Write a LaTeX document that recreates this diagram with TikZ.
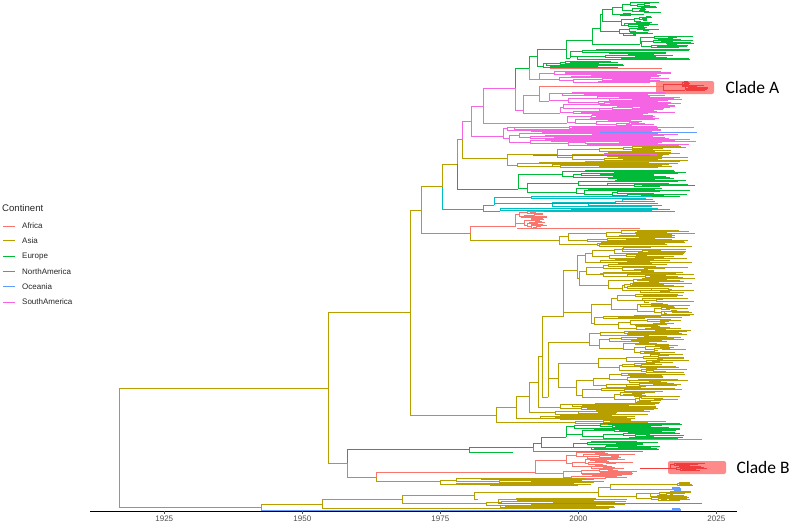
\documentclass[tikz,border=0pt]{standalone}
\usepackage{fontspec}
\setmainfont{Liberation Sans}
\newfontfamily\cladefont{Carlito}
\definecolor{af}{HTML}{F8766D}
\definecolor{as}{HTML}{B79F00}
\definecolor{eu}{HTML}{00BA38}
\definecolor{na}{HTML}{00BFC4}
\definecolor{oc}{HTML}{619CFF}
\definecolor{sa}{HTML}{F564E3}
\definecolor{hl}{RGB}{255,138,138}
\definecolor{hlred}{RGB}{240,60,60}
\definecolor{axgray}{RGB}{77,77,77}
\newcommand\rtmin{2}
\newcommand\rtvar{30}
\newcommand\rtstep{0.3}
% random subtree: #1 x, #2 ytop, #3 ybot, #4 xmax
\newcommand\rt[4]{%
  \pgfmathsetmacro\rtH{#3-#2}%
  \ifdim\rtH pt<\rtmin pt\relax
    \pgfmathsetmacro\rtM{(#2+#3)/2}%
    \pgfmathsetmacro\rtE{max(#1+1.5,#4-rnd*\rtvar)}%
    \draw (#1,\rtM) -- (\rtE,\rtM);%
    \let\rtNext\relax
  \else
    \pgfmathsetmacro\rtS{#2+(0.2+0.6*rnd)*\rtH}%
    \pgfmathsetmacro\rtA{(#2+\rtS)/2}%
    \pgfmathsetmacro\rtB{(\rtS+#3)/2}%
    \pgfmathsetmacro\rtXa{#1+(0.02+\rtstep*rnd)*(#4-#1)}%
    \pgfmathsetmacro\rtXb{#1+(0.02+\rtstep*rnd)*(#4-#1)}%
    \draw (\rtXa,\rtA) -- (#1,\rtA) -- (#1,\rtB) -- (\rtXb,\rtB);%
    \edef\rtNext{\noexpand\rt{\rtXa}{#2}{\rtS}{#4}\noexpand\rt{\rtXb}{\rtS}{#3}{#4}}%
  \fi
  \rtNext}
% subtree attached at (x,ya): [tipvar] color x ya ytop ybot xmax minh
\newcommand\sub[8][30]{%
  \begin{scope}[#2]
    \def\rtvar{#1}\def\rtmin{#8}%
    \draw (#3,#4) -- (#3,{(#5+#6)/2});
    \rt{#3}{#5}{#6}{#7}
  \end{scope}}
% internal node: x ya c1 y1 x1 c2 y2 x2
\newcommand\nd[8]{%
  \draw[#3] (#5,#4) -- (#1,#4) -- (#1,#2);
  \draw[#6] (#1,#2) -- (#1,#7) -- (#8,#7);}
\begin{document}
\begin{tikzpicture}[x=1pt,y=-1pt,line width=1pt]
\useasboundingbox (0,0) rectangle (789,523);
\pgfmathsetseed{20}
% highlight boxes
\fill[hl,rounded corners=2pt] (656,81) rectangle (714,94);
\fill[hl,rounded corners=2pt] (668,461) rectangle (726,474);
% backbone
\nd{119.3}{447}{as}{388}{328.3}{as}{507}{261}
\nd{328.3}{388}{as}{312.3}{410}{as}{463.3}{347}
\nd{410}{312.3}{as}{210}{421}{as}{415}{496}
\nd{421}{210}{as}{186.7}{442}{as}{233.3}{470.7}
\nd{442}{186.7}{as}{164}{457}{na}{209.3}{483.3}
\nd{457}{164}{as}{139.3}{462}{eu}{189.3}{518}
\nd{462}{139.3}{sa}{121.7}{471}{as}{158.3}{507}
\nd{471}{121.7}{sa}{106.7}{483.3}{sa}{136.7}{503}
\nd{483.3}{106.7}{sa}{88.3}{515}{sa}{123.3}{567}
\nd{515}{88.3}{eu}{68.3}{529}{sa}{110}{523}
\nd{529}{68.3}{eu}{56.7}{537}{sa}{79.3}{539}
\nd{537}{56.7}{eu}{49.3}{566}{eu}{66}{543}
\nd{566}{49.3}{eu}{40.7}{592}{eu}{58.3}{570}
% Europe / South America top
\nd{592}{40.7}{eu}{28}{600}{eu}{44}{640}
\sub[40]{eu}{600}{28}{2}{36}{662}{1.5}
\sub[25]{eu}{640}{44}{36}{48}{696}{1.3}
\sub[40]{eu}{570}{58.3}{49}{60}{692}{1.4}
\sub[40]{eu}{543}{66}{61}{68}{635}{1.4}
\draw[af] (550,68.3) -- (662,68.3);
\sub[35]{sa}{539}{79.3}{71}{83}{680}{1.4}
\nd{523}{110}{sa}{95}{539}{sa}{113}{560}
\nd{539}{95}{af}{86.7}{600}{sa}{101}{549}
\sub[35]{sa}{549}{101}{92}{105}{683}{1.4}
\sub[30]{sa}{560}{113}{104}{114}{678}{1.3}
\sub[35]{sa}{567}{123.3}{114}{126}{660}{1.3}
\sub[45]{sa}{503}{136.7}{126}{146}{697}{1.5}
\draw[oc] (600,132.7) -- (697,132.7);
% Clade A
\draw[af] (600,86.7) -- (663,86.7);
\nd{663}{86.7}{hlred}{84}{682}{hlred}{90}{685}
\sub[8]{hlred}{682}{84}{81}{86.5}{690}{0.8}
\sub[12]{hlred}{685}{90}{85}{91}{708}{0.8}
% Asia under F
\sub[45]{as}{507}{158.3}{146}{168}{690}{1.5}
\draw[na] (533,155) -- (650,155);
\draw[sa] (603,154) -- (657,154);
\draw[sa] (585,161) -- (670,161);
% Europe under E
\sub[45]{eu}{518}{189.3}{170}{197}{695}{1.6}
% North America
\nd{483.3}{209.3}{na}{205}{494}{na}{211}{500}
\sub[40]{na}{494}{205}{195}{208}{677}{2.4}
\sub[30]{na}{500}{211}{208.5}{212}{677}{1.2}
\draw[eu] (530,203) -- (620,203);
% Africa 1
\nd{470.7}{233.3}{af}{226}{515.7}{as}{240.3}{559.3}
\sub[15]{af}{515.7}{226}{211}{229}{548}{1.2}
\draw[af] (517,228.3) -- (640,228.3);
\sub[40]{as}{559.3}{240.3}{230}{247}{695}{1.5}
% big Asia clade
\nd{496}{415}{as}{407.7}{516.3}{as}{422.3}{575}
\nd{516.3}{407.7}{as}{396.7}{529}{as}{418.7}{540}
\nd{529}{396.7}{as}{382.7}{538.3}{as}{412}{555}
\nd{538.3}{382.7}{as}{356.7}{542.7}{as}{407.3}{560}
\nd{542.7}{356.7}{as}{316.7}{563.3}{as}{397.3}{548}
\sub[50]{as}{563.3}{316.7}{247}{331}{695}{1.6}
\sub[50]{as}{548}{397.3}{331}{403}{690}{1.6}
\sub[40]{as}{560}{407.3}{403}{410}{660}{1.3}
\sub[40]{as}{555}{412}{410}{415}{650}{1.3}
\sub[40]{as}{540}{418.7}{415}{420}{640}{1.3}
\sub[40]{as}{575}{422.3}{420}{425}{670}{1.3}
\draw[af] (600,273.3) -- (668,273.3);
% P clade
\nd{347}{463.3}{eu}{449.3}{469}{as}{477}{376.7}
\nd{469}{449.3}{eu}{447.3}{533.3}{eu}{452.3}{512.7}
\nd{533.3}{447.3}{eu}{443}{541.7}{na}{451}{643}
\nd{541.7}{443}{eu}{437}{566}{eu}{447.7}{573}
\sub[40]{eu}{566}{437}{423}{440}{685}{1.4}
\draw[as] (580,439) -- (702,439);
\sub[30]{eu}{573}{447.7}{441}{450}{662}{1.3}
\nd{376.7}{477}{af}{472.7}{535}{as}{481}{440}
\sub[40]{af}{535}{472.7}{452}{479}{640}{1.5}
\sub[40]{as}{440}{481}{478}{485.5}{605}{1.2}
% Clade B
\draw[hlred] (640,468) -- (670,468);
\sub[20]{hlred}{670}{468}{463}{471}{707}{0.9}
% bottom clades
\nd{261}{507}{as}{504}{322.3}{oc}{510}{672}
\sub[6]{oc}{672}{510}{508}{511}{684}{0.8}
\nd{322.3}{504}{as}{499.7}{402.7}{as}{508.3}{575}
\sub[20]{as}{575}{508.3}{506}{509}{625}{1}
\nd{402.7}{499.7}{as}{495.7}{474.3}{as}{503.7}{486.7}
\nd{474.3}{495.7}{as}{492.3}{598.3}{as}{499}{478}
\nd{598.3}{492.3}{as}{487.3}{610}{as}{496.7}{636.7}
\nd{610}{487.3}{as}{484}{677}{oc}{489.5}{672}
\sub[6]{as}{677}{484}{482}{486}{693}{0.8}
\sub[6]{oc}{672}{489.5}{487}{491}{683}{0.8}
\sub[25]{as}{636.7}{496.7}{491}{501}{692}{1}
\nd{486.7}{503.7}{as}{502.3}{498.3}{as}{505.3}{500}
\sub[40]{as}{498.3}{502.3}{498}{505}{630}{1.2}
\draw[na] (498.3,503) -- (702,503);
\sub[30]{as}{500}{505.3}{505}{507.5}{600}{1}
% axis
\draw[black,line width=1.1pt] (90,511.3) -- (736.7,511.3);
\foreach \yr/\xx in {1925/164.3,1950/302.3,1975/440.3,2000/578.3,2025/716.3}{
  \draw[axgray,line width=0.7pt] (\xx,511.3) -- (\xx,514);
  \node[axgray,font=\fontsize{8}{9}\selectfont,inner sep=0] at (\xx,518.3) {\yr};
}
% clade labels
\node[anchor=west,inner sep=0,font=\cladefont\fontsize{17.5}{20}\selectfont] (cladeA) at (725,87) {Clade A};
\node[anchor=west,inner sep=0,font=\cladefont\fontsize{17.5}{20}\selectfont] (cladeB) at (736,467.7) {Clade B};
% legend
\node[anchor=west,inner sep=0,font=\fontsize{9.6}{11}\selectfont,text=black!85] (legt) at (1.7,208.3) {Continent};
\foreach \c/\t/\yy in {af/Africa/226, as/Asia/240.5, eu/Europe/256.2, na/NorthAmerica/271.6, oc/Oceania/286.8, sa/SouthAmerica/302.1}{
  \draw[\c,line width=1pt] (3,\yy) -- (15,\yy);
  \node[anchor=west,inner sep=0,font=\fontsize{8}{9}\selectfont,text=black!85] at (21.7,\yy) {\t};
}
\end{tikzpicture}
\end{document}
